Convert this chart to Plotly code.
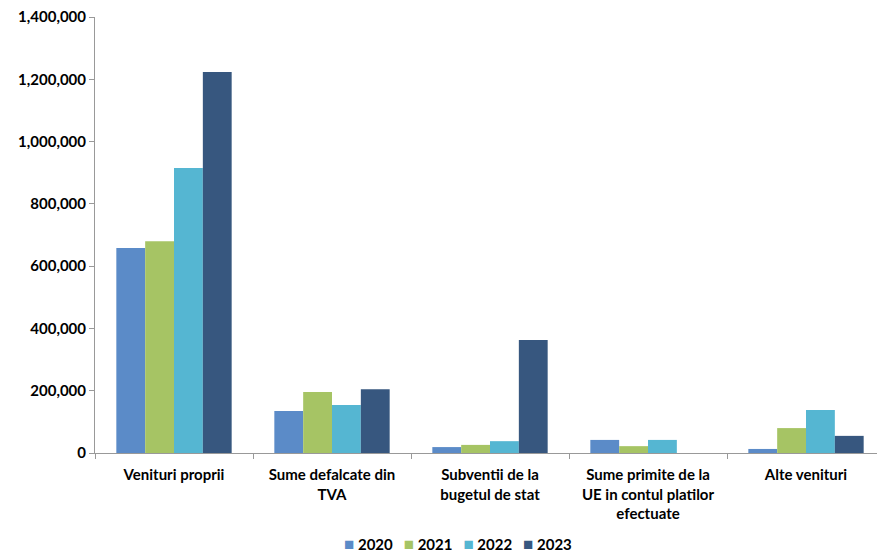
import plotly.graph_objects as go

categories = ["Venituri proprii", "Sume defalcate din<br>TVA", "Subventii de la<br>bugetul de stat",
              "Sume primite de la<br>UE in contul platilor<br>efectuate", "Alte venituri"]
years = ["2020", "2021", "2022", "2023"]
v2020 = [658000, 135000, 19000, 42000, 13000]
v2021 = [680000, 196000, 26000, 22000, 80000]
v2022 = [915000, 154000, 38000, 42000, 138000]
v2023 = [1223000, 205000, 363000, 0, 55000]
colors = ["#5b8bc8", "#a6c464", "#55b6d2", "#37577f"]
y_ticks = [0, 200000, 400000, 600000, 800000, 1000000, 1200000, 1400000]

fig = go.Figure()
for name, vals, c in zip(years, [v2020, v2021, v2022, v2023], colors):
    fig.add_trace(go.Bar(x=categories, y=vals, name=name, marker_color=c, marker_line_width=0,
                         showlegend=False))

tfont = dict(family="Lato, Open Sans, sans-serif", size=15, color="#000", weight="bold")

legend_text = "&nbsp;&nbsp;&nbsp;".join(
    f"<span style='color:{c};font-size:17px'>■</span>&nbsp;<b>{y}</b>" for y, c in zip(years, colors))
fig.add_annotation(text=legend_text, xref="paper", yref="paper", x=0.459, y=-0.208,
                   xanchor="center", yanchor="middle", showarrow=False,
                   font=dict(family="Lato, sans-serif", size=15, color="#000"))

fig.update_layout(
    width=877, height=545,
    margin=dict(l=87, r=0, t=9, b=100),
    plot_bgcolor="white", paper_bgcolor="white",
    barmode="group", bargap=0.27, bargroupgap=0,
    font=tfont,
    showlegend=False,
    xaxis=dict(showline=True, linecolor="#999", linewidth=1, ticks="outside", tickson="boundaries",
               ticklen=5, tickcolor="#999", showgrid=False, automargin=False, ticklabelstandoff=8,
               tickfont=tfont, ticklabeloverflow="allow"),
    yaxis=dict(range=[0, 1400000], tickvals=y_ticks, tickformat=",", showline=True, linecolor="#999",
               linewidth=1, ticks="outside", ticklen=5, tickcolor="#999", showgrid=False, zeroline=False,
               automargin=False, tickfont=tfont, ticklabeloverflow="allow"),
)
fig.write_html("out.html")
